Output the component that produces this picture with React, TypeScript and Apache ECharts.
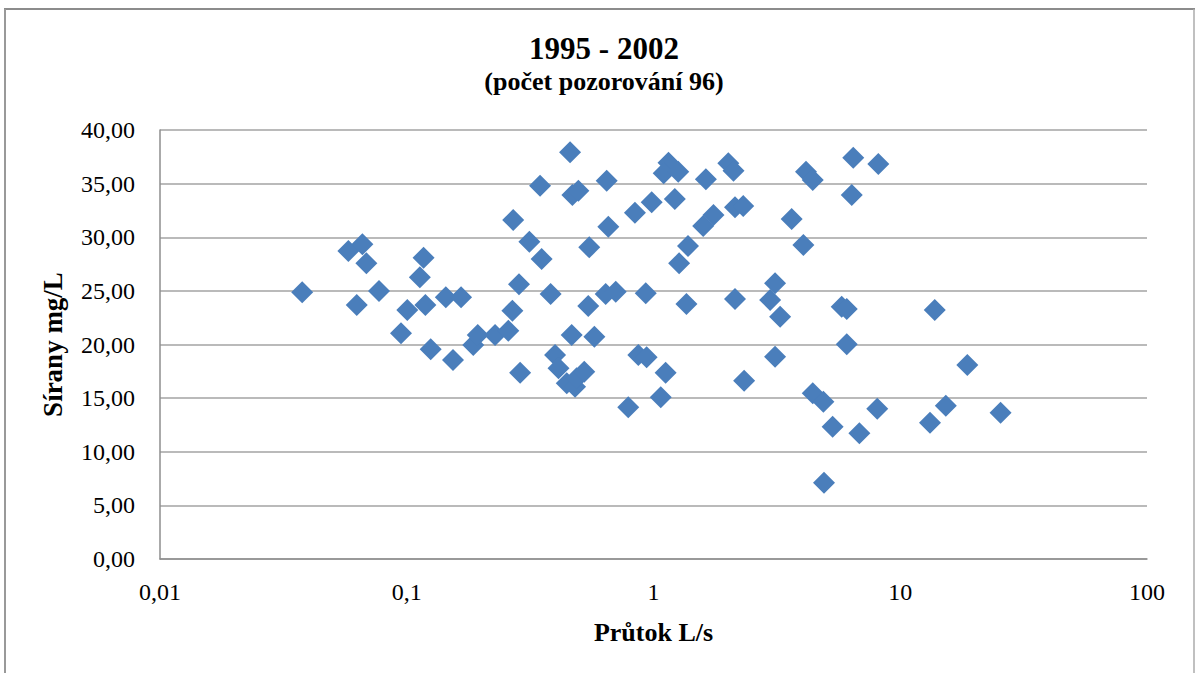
import React, { useEffect, useRef } from "react";
import * as echarts from "echarts";

const titleText = "1995 - 2002";
const subtitleText = "(počet pozorování 96)";
const xAxisName = "Průtok L/s";
const yAxisName = "Sírany mg/L";

// Flow (L/s)
const flow: number[] = [
  0.0377, 0.058, 0.0661, 0.0686, 0.0627, 0.0772, 0.117, 0.113, 0.119, 0.1005,
  0.0948, 0.144, 0.166, 0.125, 0.154, 0.186, 0.194, 0.228, 0.258, 0.268,
  0.285, 0.27, 0.314, 0.352, 0.347, 0.288, 0.383, 0.399, 0.412, 0.459,
  0.469, 0.496, 0.466, 0.445, 0.481, 0.488, 0.524, 0.576, 0.544, 0.549,
  0.646, 0.656, 0.64, 0.703, 0.841, 0.983, 0.868, 0.938, 0.79, 0.93,
  1.07, 1.12, 1.15, 1.1, 1.26, 1.22, 1.38, 1.27, 1.36, 1.63,
  1.59, 1.75, 2.01, 2.11, 2.14, 2.31, 2.14, 2.33, 2.97, 3.11,
  3.11, 3.26, 4.15, 4.42, 6.45, 8.15, 6.36, 3.63, 4.05, 5.79,
  6.07, 6.07, 13.8, 18.7, 4.42, 4.88, 5.32, 6.83, 8.07, 13.2,
  15.3, 25.5, 4.91,
];

// Sulphates (mg/L)
const sulphate: number[] = [
  24.87, 28.72, 29.34, 27.57, 23.68, 24.99, 28.09, 26.27, 23.68, 23.22,
  21.04, 24.4, 24.4, 19.55, 18.55, 19.95, 20.89, 20.89, 21.29, 23.15,
  25.61, 31.61, 29.59, 27.97, 34.81, 17.37, 24.71, 19.02, 17.78, 37.92,
  33.94, 34.34, 20.89, 16.38, 16.07, 16.85, 17.46, 20.73, 23.59, 29.06,
  35.27, 30.98, 24.71, 24.92, 32.29, 33.26, 19.02, 18.81, 14.14, 24.77,
  15.08, 17.37, 36.95, 35.96, 36.11, 33.57, 29.18, 27.57, 23.78, 35.4,
  31.05, 32.07, 36.89, 36.21, 32.79, 32.91, 24.24, 16.62, 24.15, 25.71,
  18.86, 22.59, 36.11, 35.34, 37.42, 36.83, 33.94, 31.7, 29.28, 23.52,
  23.31, 20.02, 23.22, 18.09, 15.45, 14.67, 12.34, 11.72, 14.01, 12.71,
  14.29, 13.64, 7.11,
];

const yMin = 0;
const yMax = 40;
const yInterval = 5;
const xMin = 0.01;
const xMax = 100;

const serif = "'Liberation Serif', 'Times New Roman', serif";

export default function App() {
  const ref = useRef<HTMLDivElement>(null);

  useEffect(() => {
    if (!ref.current) return;
    const chart = echarts.init(ref.current, null, { renderer: "svg" });
    const points = flow.map((f, i) => [f, sulphate[i]]);
    chart.setOption({
      animation: false,
      backgroundColor: "#ffffff",
      grid: { left: 160, right: 49, top: 130, bottom: 114 },
      graphic: [
        {
          type: "line",
          shape: { x1: 4, y1: 9, x2: 1195, y2: 9 },
          style: { stroke: "#8c8c8c", lineWidth: 2 },
          silent: true,
        },
        {
          type: "line",
          shape: { x1: 5, y1: 9, x2: 5, y2: 673 },
          style: { stroke: "#999999", lineWidth: 2 },
          silent: true,
        },
        {
          type: "line",
          shape: { x1: 1194, y1: 9, x2: 1194, y2: 673 },
          style: { stroke: "#ababab", lineWidth: 1.5 },
          silent: true,
        },
        {
          type: "text",
          x: 604,
          y: 48,
          style: {
            text: titleText,
            font: `bold 31px ${serif}`,
            fill: "#000000",
            textAlign: "center",
            textVerticalAlign: "middle",
          },
        },
        {
          type: "text",
          x: 604,
          y: 81,
          style: {
            text: subtitleText,
            font: `bold 26px ${serif}`,
            fill: "#000000",
            textAlign: "center",
            textVerticalAlign: "middle",
          },
        },
      ],
      xAxis: {
        type: "log",
        logBase: 10,
        min: xMin,
        max: xMax,
        name: xAxisName,
        nameLocation: "middle",
        nameGap: 60,
        nameTextStyle: {
          fontFamily: serif,
          fontWeight: "bold",
          fontSize: 26,
          color: "#000000",
        },
        axisLine: { show: true, lineStyle: { color: "#8e8e8e", width: 1.5 } },
        axisTick: { show: false },
        splitLine: { show: false },
        minorSplitLine: { show: false },
        axisLabel: {
          fontFamily: serif,
          fontSize: 24,
          color: "#000000",
          margin: 21,
          formatter: (v: number) =>
            String(Number(v.toPrecision(6))).replace(".", ","),
        },
      },
      yAxis: {
        type: "value",
        min: yMin,
        max: yMax,
        interval: yInterval,
        name: yAxisName,
        nameLocation: "middle",
        nameGap: 94,
        nameTextStyle: {
          fontFamily: serif,
          fontWeight: "bold",
          fontSize: 27,
          color: "#000000",
        },
        axisLine: { show: true, lineStyle: { color: "#8e8e8e", width: 1.5 } },
        axisTick: { show: false },
        splitLine: { show: true, lineStyle: { color: "#a3a3a3", width: 1.5 } },
        axisLabel: {
          fontFamily: serif,
          fontSize: 24,
          color: "#000000",
          margin: 25,
          formatter: (v: number) => v.toFixed(2).replace(".", ","),
        },
      },
      series: [
        {
          type: "scatter",
          symbol: "diamond",
          symbolSize: 22,
          itemStyle: { color: "#4A7EBB", opacity: 1 },
          data: points,
        },
      ],
    });
    return () => chart.dispose();
  }, []);

  return (
    <div
      ref={ref}
      style={{ position: "fixed", left: 0, top: 0, width: 1196, height: 673 }}
    />
  );
}
